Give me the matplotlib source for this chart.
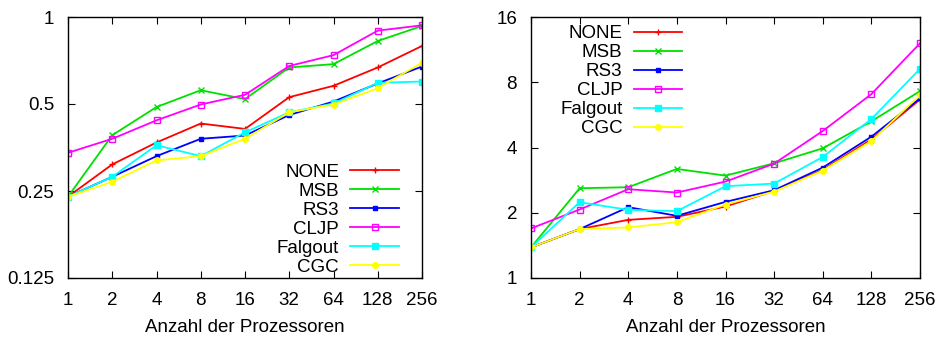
import matplotlib
matplotlib.use("Agg")
import matplotlib.pyplot as plt
from matplotlib.ticker import FixedLocator, FixedFormatter, NullLocator

plt.rcParams['font.family'] = ['Liberation Sans', 'DejaVu Sans']

procs = [1, 2, 4, 8, 16, 32, 64, 128, 256]
proc_labels = ["1", "2", "4", "8", "16", "32", "64", "128", "256"]
series_names = ["NONE", "MSB", "RS3", "CLJP", "Falgout", "CGC"]

left_none = [0.239, 0.309, 0.368, 0.428, 0.410, 0.528, 0.578, 0.669, 0.794]
left_msb = [0.239, 0.390, 0.488, 0.558, 0.520, 0.669, 0.687, 0.826, 0.931]
left_rs3 = [0.239, 0.280, 0.330, 0.379, 0.389, 0.458, 0.510, 0.589, 0.674]
left_cljp = [0.339, 0.379, 0.439, 0.498, 0.538, 0.677, 0.738, 0.897, 0.936]
left_falgout = [0.239, 0.280, 0.360, 0.330, 0.399, 0.468, 0.502, 0.592, 0.598]
left_cgc = [0.239, 0.269, 0.319, 0.330, 0.379, 0.468, 0.498, 0.567, 0.695]

right_none = [1.384, 1.681, 1.855, 1.915, 2.137, 2.522, 3.151, 4.36, 6.66]
right_msb = [1.384, 2.595, 2.623, 3.185, 2.967, 3.382, 3.965, 5.28, 7.28]
right_rs3 = [1.384, 1.681, 2.122, 1.936, 2.245, 2.541, 3.231, 4.487, 6.74]
right_cljp = [1.693, 2.070, 2.568, 2.479, 2.785, 3.370, 4.765, 7.05, 12.1]
right_falgout = [1.384, 2.238, 2.063, 2.034, 2.651, 2.727, 3.617, 5.41, 9.22]
right_cgc = [1.384, 1.681, 1.711, 1.810, 2.183, 2.505, 3.129, 4.285, 6.98]

left_yticks = [0.125, 0.25, 0.5, 1]
left_ylabels = ["0.125", "0.25", "0.5", "1"]
right_yticks = [1, 2, 4, 8, 16]
right_ylabels = ["1", "2", "4", "8", "16"]

colors = ["#ff0000", "#00e000", "#0000ff", "#ff00ff", "#00ffff", "#ffff00"]
markers = ["+", "x", "s", "s", "s", "o"]
mfaces = [None, None, None, "none", None, None]
msizes = [4, 4, 3, 4.5, 4, 4]

W, H = 938, 337
FS = 13.5
fig = plt.figure(figsize=(W / 100, H / 100), dpi=100)

def make_ax(rect, data, yticks, ylabels, ylim, legend_loc):
    ax = fig.add_axes(rect)
    for vals, name, c, m, mf, ms in zip(data, series_names, colors, markers, mfaces, msizes):
        kw = dict(color=c, marker=m, markersize=ms, linewidth=1.3, label=name,
                  markeredgewidth=1.0)
        if mf is not None:
            kw['markerfacecolor'] = mf
        ax.plot(procs, vals, **kw)
    ax.set_xscale('log', base=2)
    ax.set_yscale('log', base=2)
    ax.set_xlim(1, 256)
    ax.set_ylim(*ylim)
    ax.xaxis.set_major_locator(FixedLocator(procs))
    ax.xaxis.set_major_formatter(FixedFormatter(proc_labels))
    ax.xaxis.set_minor_locator(NullLocator())
    ax.yaxis.set_major_locator(FixedLocator(yticks))
    ax.yaxis.set_major_formatter(FixedFormatter(ylabels))
    ax.yaxis.set_minor_locator(NullLocator())
    ax.tick_params(direction='in', top=True, right=True, length=5, width=0.8,
                   labelsize=FS, pad=10)
    for s in ax.spines.values():
        s.set_linewidth(1.0)
    ax.set_xlabel("Anzahl der Prozessoren", fontsize=FS, labelpad=7)
    leg = ax.legend(loc=legend_loc, markerfirst=False, frameon=False,
                    fontsize=FS, handlelength=2.6, labelspacing=0.1,
                    handletextpad=0.6, borderaxespad=0.0, borderpad=0.0)
    for t in leg.get_texts():
        t.set_ha('right')
    return ax, leg

ax1, leg1 = make_ax([68 / W, 1 - 278 / H, 354 / W, 261 / H],
                    [left_none, left_msb, left_rs3, left_cljp, left_falgout, left_cgc],
                    left_yticks, left_ylabels, (0.125, 1), 'lower right')
ax2, leg2 = make_ax([531 / W, 1 - 278 / H, 389 / W, 261 / H],
                    [right_none, right_msb, right_rs3, right_cljp, right_falgout, right_cgc],
                    right_yticks, right_ylabels, (1, 16), 'upper left')

leg1.set_bbox_to_anchor((399 / W, 1 - 276 / H), transform=fig.transFigure)
leg2.set_bbox_to_anchor((560 / W, 1 - 25 / H), transform=fig.transFigure)

fig.savefig("out.png", dpi=100)
